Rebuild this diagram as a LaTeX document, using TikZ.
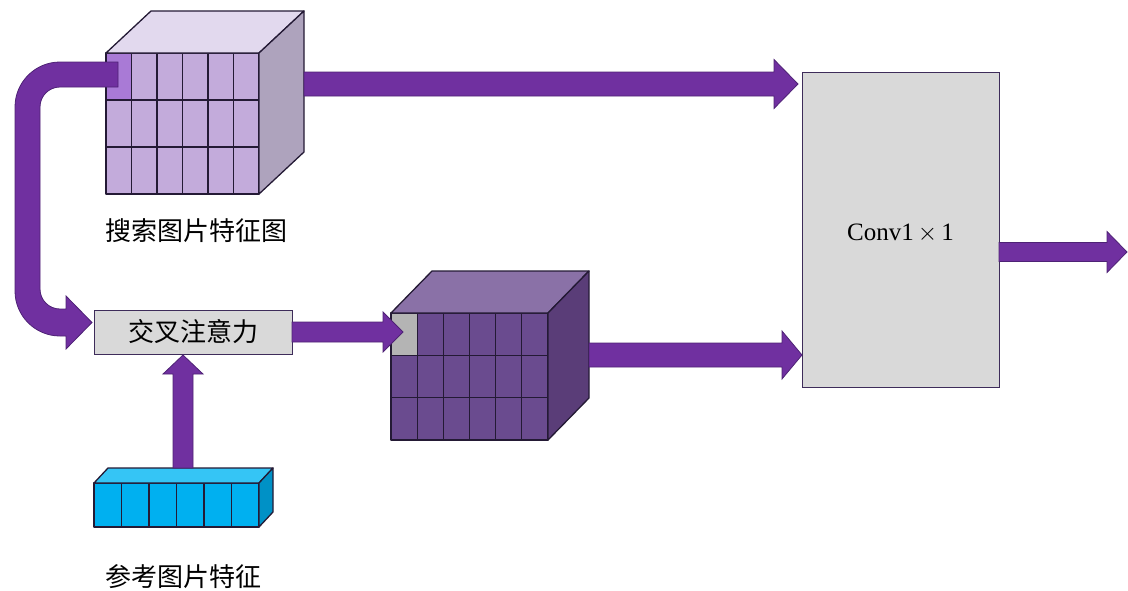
\documentclass[tikz,border=0pt]{standalone}
\usepackage{fontspec}
\setmainfont{Liberation Serif}
\newfontfamily\cjk{Noto Sans CJK SC}
\usetikzlibrary{calc}

\definecolor{flowpurple}{HTML}{7030A0}
\definecolor{flowedge}{HTML}{4E2275}
\definecolor{edgedark}{HTML}{241A35}
\definecolor{boxgrey}{HTML}{D9D9D9}
\definecolor{boxedge}{HTML}{3E2C5A}
% search feature map (light cube)
\definecolor{sFront}{HTML}{C3ABDB}
\definecolor{sTop}{HTML}{E2D9EE}
\definecolor{sSide}{HTML}{AEA3BD}
\definecolor{sMark}{HTML}{A97AD6}
% fused feature map (dark cube)
\definecolor{pFront}{HTML}{6A4B8F}
\definecolor{pTop}{HTML}{8A71A7}
\definecolor{pSide}{HTML}{5A3D78}
\definecolor{pMark}{HTML}{B4B4B4}
% reference feature vector
\definecolor{rFront}{HTML}{00B0F0}
\definecolor{rTop}{HTML}{35C5F5}
\definecolor{rSide}{HTML}{0091C6}

% straight block arrow pointing right: start, tip, shaft half width, head half width, head length
\newcommand\hblockarrow[5]{%
  \filldraw[blockarrow] ($(#1)+(0,-#3)$) -- ($(#2)+(-#5,-#3)$) -- ($(#2)+(-#5,-#4)$)
    -- (#2) -- ($(#2)+(-#5,#4)$) -- ($(#2)+(-#5,#3)$) -- ($(#1)+(0,#3)$) -- cycle;}
% straight block arrow pointing up
\newcommand\vblockarrow[5]{%
  \filldraw[blockarrow] ($(#1)+(-#3,0)$) -- ($(#2)+(-#3,#5)$) -- ($(#2)+(-#4,#5)$)
    -- (#2) -- ($(#2)+(#4,#5)$) -- ($(#2)+(#3,#5)$) -- ($(#1)+(#3,0)$) -- cycle;}

\begin{document}
\begin{tikzpicture}[x=1pt,y=-1pt,
  blockarrow/.style={fill=flowpurple,draw=flowedge,line width=0.8pt,line join=miter},
  face/.style={draw=edgedark,line width=1.3pt,line join=round},
  gridline/.style={draw=edgedark,line width=1.3pt},
  frontface/.style={inner sep=0pt,outer sep=0pt,draw=none},
  procbox/.style={fill=boxgrey,draw=boxedge,line width=1pt,inner sep=0pt,outer sep=0pt},
  cjklabel/.style={font=\cjk\fontsize{26pt}{30pt}\selectfont,inner sep=0pt}]
\useasboundingbox (0,0) rectangle (1128,590);

% ---------- search image feature map ----------
\node[frontface,fill=sFront,minimum width=153pt,minimum height=141pt] (sfm) at (182.5,123.5) {};
\fill[sMark] (sfm.north west) rectangle ($(sfm.north west)+(25.5,47)$);
\foreach \i in {1,...,5}
  \draw[gridline] ($(sfm.north west)!\i/6!(sfm.north east)$) -- ($(sfm.south west)!\i/6!(sfm.south east)$);
\foreach \j in {1,2}
  \draw[gridline] ($(sfm.north west)!\j/3!(sfm.south west)$) -- ($(sfm.north east)!\j/3!(sfm.south east)$);
\draw[face] (sfm.north west) rectangle (sfm.south east);
\filldraw[face,fill=sTop] (sfm.north west) -- ++(45,-42) -- ++(153,0) -- (sfm.north east) -- cycle;
\filldraw[face,fill=sSide] (sfm.north east) -- ++(45,-42) -- ++(0,141) -- (sfm.south east) -- cycle;
\node[cjklabel] (slabel) at (196.5,231) {搜索图片特征图};

% ---------- reference image feature ----------
\node[frontface,fill=rFront,minimum width=165pt,minimum height=44pt] (rfm) at (176.5,505) {};
\foreach \i in {1,...,5}
  \draw[gridline] ($(rfm.north west)!\i/6!(rfm.north east)$) -- ($(rfm.south west)!\i/6!(rfm.south east)$);
\draw[face] (rfm.north west) rectangle (rfm.south east);
\filldraw[face,fill=rTop] (rfm.north west) -- ++(14,-15) -- ++(165,0) -- (rfm.north east) -- cycle;
\filldraw[face,fill=rSide] (rfm.north east) -- ++(14,-15) -- ++(0,44) -- (rfm.south east) -- cycle;
\node[cjklabel] (rlabel) at (183.5,577) {参考图片特征};

% ---------- processing blocks ----------
\node[procbox,minimum width=198pt,minimum height=44pt,
      font=\cjk\fontsize{26pt}{30pt}\selectfont] (ca) at (193,332) {交叉注意力};
\node[procbox,minimum width=197pt,minimum height=315pt] (conv) at (900.5,229.5) {};
\node[inner sep=0pt,font=\fontsize{25pt}{30pt}\selectfont] (convtext)
  at ($(conv.center)+(0,4)$) {Conv1\,$\times$\,1};

% ---------- fused feature map ----------
\node[frontface,fill=pFront,minimum width=157pt,minimum height=127pt] (pfm) at (469.5,376.5) {};
\fill[pMark] (pfm.north west) rectangle ($(pfm.north west)+(26,42)$);
\foreach \i in {1,...,5}
  \draw[gridline] ($(pfm.north west)!\i/6!(pfm.north east)$) -- ($(pfm.south west)!\i/6!(pfm.south east)$);
\foreach \j in {1,2}
  \draw[gridline] ($(pfm.north west)!\j/3!(pfm.south west)$) -- ($(pfm.north east)!\j/3!(pfm.south east)$);
\draw[face] (pfm.north west) rectangle (pfm.south east);
\filldraw[face,fill=pTop] (pfm.north west) -- ++(41,-42) -- ++(157,0) -- (pfm.north east) -- cycle;
\filldraw[face,fill=pSide] (pfm.north east) -- ++(41,-42) -- ++(0,127) -- (pfm.south east) -- cycle;

% ---------- connectors ----------
% loop from the search map round into the cross-attention block
\filldraw[blockarrow] (118,62) -- (60,62)
  .. controls (35.15,62) and (15,82.15) .. (15,107) -- (15,291)
  .. controls (15,315.85) and (35.15,336) .. (60,336) -- (66,336) -- (66,349)
  -- (92,322.5) -- (66,296) -- (66,309) -- (60,309)
  .. controls (48.95,309) and (40,300.05) .. (40,289) -- (40,107)
  .. controls (40,95.95) and (48.95,87) .. (60,87) -- (118,87) -- cycle;

% search map straight to the convolution
\coordinate (s-out) at ($(sfm.north east)+(45,31)$);
\coordinate (s-in) at ($(conv.west |- s-out)+(-4,0)$);
\hblockarrow{s-out}{s-in}{12}{24.5}{24}

% reference feature up into cross attention
\coordinate (r-out) at ($(rfm.north west)+(89,-15)$);
\coordinate (r-in) at ($(ca.south -| r-out)+(0,1)$);
\vblockarrow{r-out}{r-in}{10}{20}{19}

% cross attention into the fused map
\coordinate (ca-out) at (ca.east);
\coordinate (p-in) at ($(pfm.north west)+(12,19)$);
\hblockarrow{ca-out}{p-in}{10}{20}{20}

% fused map into the convolution
\coordinate (p-out) at ($(pfm.north east)+(41,42)$);
\coordinate (conv-in) at (conv.west |- p-out);
\hblockarrow{p-out}{conv-in}{12}{24}{20}

% convolution output
\coordinate (c-out) at ($(conv.east)+(0,22.5)$);
\coordinate (c-tip) at ($(c-out)+(128,0)$);
\hblockarrow{c-out}{c-tip}{9.5}{20.5}{20}
\end{tikzpicture}
\end{document}
